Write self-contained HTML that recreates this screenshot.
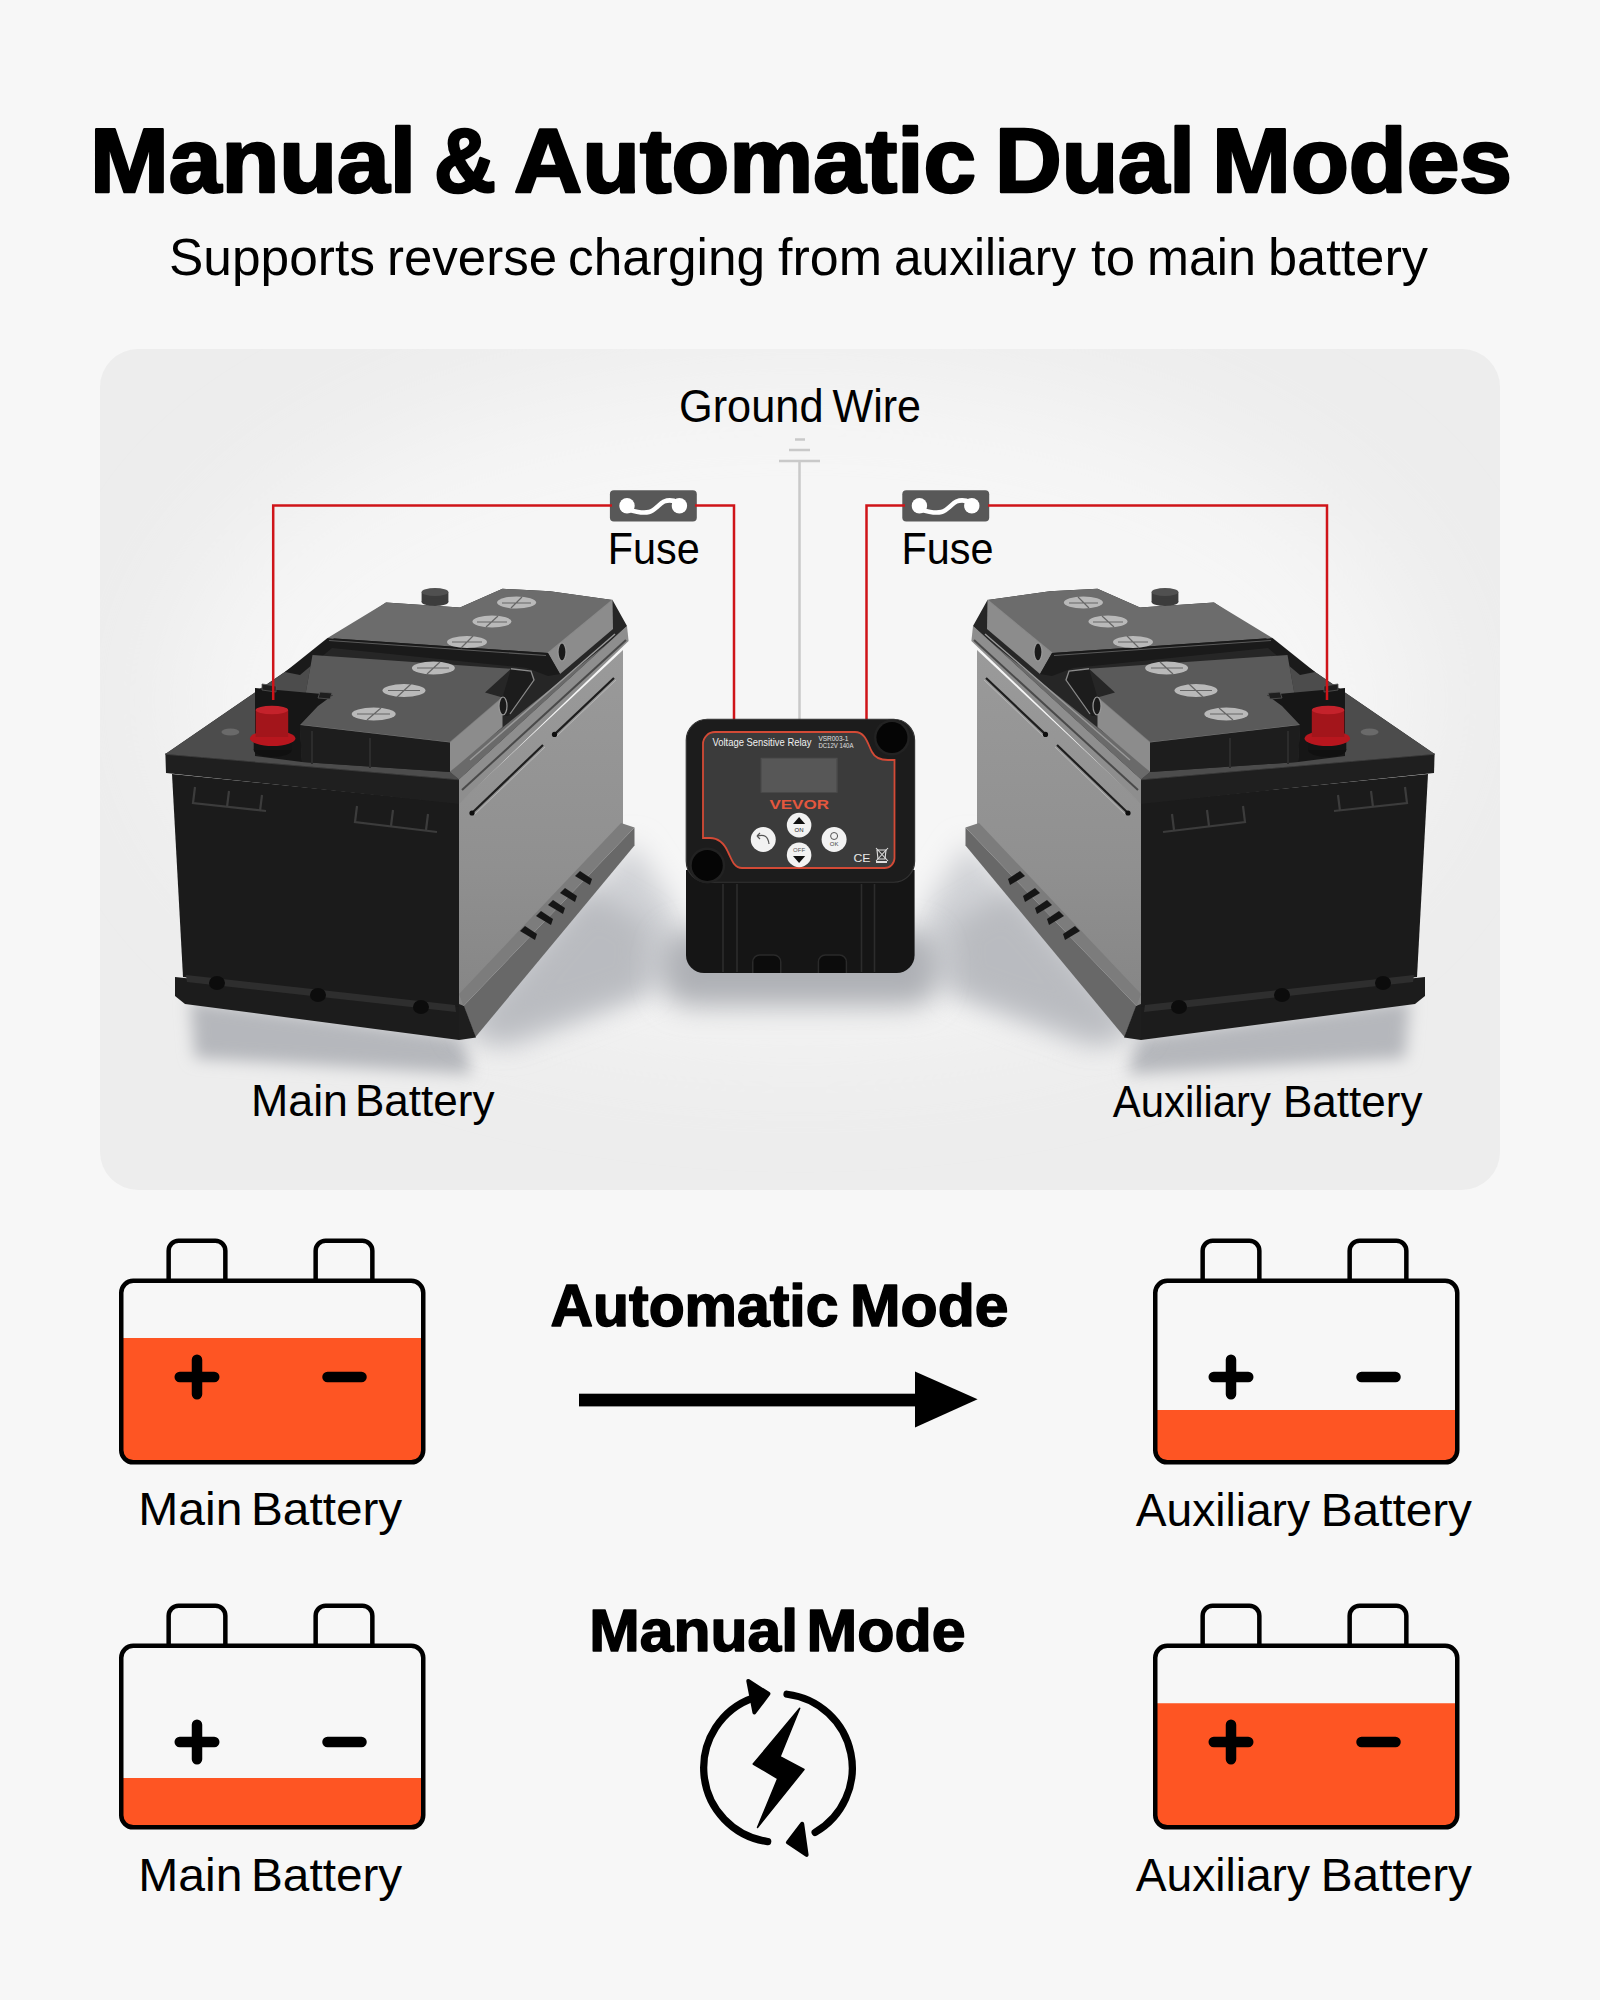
<!DOCTYPE html>
<html>
<head>
<meta charset="utf-8">
<style>
html,body{margin:0;padding:0;}
body{width:1600px;height:2000px;background:#f7f7f7;overflow:hidden;position:relative;font-family:"Liberation Sans",sans-serif;}
svg{position:absolute;left:0;top:0;}
</style>
</head>
<body>
<svg width="1600" height="2000" viewBox="0 0 1600 2000" font-family="Liberation Sans, sans-serif">
<defs>
  <linearGradient id="cardg" x1="0" y1="0" x2="0" y2="1">
    <stop offset="0" stop-color="#ebebeb"/>
    <stop offset="0.35" stop-color="#f1f1f1"/>
    <stop offset="0.7" stop-color="#f0f0f1"/>
    <stop offset="1" stop-color="#ececec"/>
  </linearGradient>
  <filter id="blur60" x="-50%" y="-50%" width="200%" height="200%"><feGaussianBlur stdDeviation="60"/></filter>
  <filter id="blur14" x="-50%" y="-50%" width="200%" height="200%"><feGaussianBlur stdDeviation="14"/></filter>
  <filter id="blur8" x="-50%" y="-50%" width="200%" height="200%"><feGaussianBlur stdDeviation="8"/></filter>
  <linearGradient id="sideg" x1="0" y1="0" x2="0" y2="1">
    <stop offset="0" stop-color="#9a9a9a"/>
    <stop offset="0.6" stop-color="#909090"/>
    <stop offset="1" stop-color="#858585"/>
  </linearGradient>
</defs>

<!-- Title -->
<text x="90" textLength="326" y="191.5" font-size="91" font-weight="bold" fill="#000" stroke="#000" stroke-width="2.6" stroke-linejoin="round" lengthAdjust="spacingAndGlyphs">Manual</text>
<text x="434" textLength="62" y="191.5" font-size="91" font-weight="bold" fill="#000" stroke="#000" stroke-width="2.6" stroke-linejoin="round" lengthAdjust="spacingAndGlyphs">&amp;</text>
<text x="514" textLength="462" y="191.5" font-size="91" font-weight="bold" fill="#000" stroke="#000" stroke-width="2.6" stroke-linejoin="round" lengthAdjust="spacingAndGlyphs">Automatic</text>
<text x="995" textLength="200" y="191.5" font-size="91" font-weight="bold" fill="#000" stroke="#000" stroke-width="2.6" stroke-linejoin="round" lengthAdjust="spacingAndGlyphs">Dual</text>
<text x="1212" textLength="300" y="191.5" font-size="91" font-weight="bold" fill="#000" stroke="#000" stroke-width="2.6" stroke-linejoin="round" lengthAdjust="spacingAndGlyphs">Modes</text>
<text x="169" textLength="206" y="275" font-size="52" fill="#000" lengthAdjust="spacingAndGlyphs">Supports</text>
<text x="387" textLength="170" y="275" font-size="52" fill="#000" lengthAdjust="spacingAndGlyphs">reverse</text>
<text x="568" textLength="197" y="275" font-size="52" fill="#000" lengthAdjust="spacingAndGlyphs">charging</text>
<text x="778" textLength="104" y="275" font-size="52" fill="#000" lengthAdjust="spacingAndGlyphs">from</text>
<text x="894" textLength="182" y="275" font-size="52" fill="#000" lengthAdjust="spacingAndGlyphs">auxiliary</text>
<text x="1091" textLength="44" y="275" font-size="52" fill="#000" lengthAdjust="spacingAndGlyphs">to</text>
<text x="1147" textLength="109" y="275" font-size="52" fill="#000" lengthAdjust="spacingAndGlyphs">main</text>
<text x="1268" textLength="160" y="275" font-size="52" fill="#000" lengthAdjust="spacingAndGlyphs">battery</text>

<!-- Card -->
<clipPath id="cardclip"><rect x="100" y="349" width="1400" height="841" rx="38"/></clipPath>
<rect x="100" y="349" width="1400" height="841" rx="38" fill="#ededed"/>
<g clip-path="url(#cardclip)">
  <ellipse cx="800" cy="700" rx="620" ry="330" fill="#f6f6f6" filter="url(#blur60)"/>
</g>


<!-- labels -->
<text x="679" y="422" font-size="46.5" fill="#000" textLength="144.5" lengthAdjust="spacingAndGlyphs">Ground</text>
<text x="832.5" y="422" font-size="46.5" fill="#000" textLength="88.5" lengthAdjust="spacingAndGlyphs">Wire</text>
<text x="607.7" y="563.5" font-size="44" fill="#000" textLength="92" lengthAdjust="spacingAndGlyphs">Fuse</text>
<text x="901.5" y="563.5" font-size="44" fill="#000" textLength="92" lengthAdjust="spacingAndGlyphs">Fuse</text>
<text x="251" y="1116" font-size="44" fill="#000" textLength="97" lengthAdjust="spacingAndGlyphs">Main</text>
<text x="355" y="1116" font-size="44" fill="#000" textLength="139.5" lengthAdjust="spacingAndGlyphs">Battery</text>
<text x="1112.75" y="1117" font-size="44" fill="#000" textLength="158.25" lengthAdjust="spacingAndGlyphs">Auxiliary</text>
<text x="1283" y="1117" font-size="44" fill="#000" textLength="139.5" lengthAdjust="spacingAndGlyphs">Battery</text>

<!-- ground symbol -->
<g stroke="#c9c9c9" stroke-width="2.5" fill="none">
  <line x1="799.5" y1="461" x2="799.5" y2="722"/>
  <line x1="779" y1="461" x2="820" y2="461"/>
  <line x1="789" y1="450" x2="810" y2="450"/>
  <line x1="795" y1="439.5" x2="805" y2="439.5"/>
</g>



<!-- fuses -->
<g id="fuse">
  <rect x="609.9" y="490.2" width="86.9" height="31.4" rx="4" fill="#585858"/>
  <circle cx="627" cy="505.8" r="7.7" fill="#fff"/>
  <circle cx="679.4" cy="505.8" r="7.7" fill="#fff"/>
  <path d="M628,509.5 C636,512 643,513.5 649,512 C655,510.5 659,504 664,501.5 C669,499.5 674,500.5 678,502.5" stroke="#fff" stroke-width="4.5" fill="none" stroke-linecap="round"/>
</g>
<use href="#fuse" x="292.4"/>

<!-- BATL_START -->
<g id="batL">
  <!-- floor shadow -->
  <path d="M190,1000 L462,1036 L472,1074 L195,1058 Z" fill="#b5b7bc" filter="url(#blur8)"/>
  <path d="M455,1030 L632,842 L672,902 L690,975 L510,1046 Z" fill="#d0d2d6" filter="url(#blur14)"/>
  <path d="M470,1030 L590,890 L650,925 L645,990 L500,1040 Z" fill="#b9bbc0" filter="url(#blur14)"/>
  <!-- side face -->
  <path d="M459,803 L623,650 L623,828 L459,1010 Z" fill="url(#sideg)"/>
  <!-- side grooves -->
  <path d="M472,813 L543,745" stroke="#1e1e1e" stroke-width="2.2"/>
  <path d="M474,815 L545,747" stroke="#b5b5b5" stroke-width="1"/>
  <circle cx="472" cy="813" r="2.6" fill="#0e0e0e"/>
  <path d="M554.5,734.4 L614,678" stroke="#1e1e1e" stroke-width="2.2"/>
  <path d="M556.5,736.4 L616,680" stroke="#b5b5b5" stroke-width="1"/>
  <circle cx="554.5" cy="734.4" r="2.6" fill="#0e0e0e"/>
  <!-- flange side top (lighter) -->
  <path d="M621,823 L634.5,827.5 L463.5,1006 L459,994 Z" fill="#7c7c7c"/>
  <!-- flange side vertical -->
  <path d="M634.5,827.5 L634.5,845.5 L475.5,1037 L463.5,1006 Z" fill="#686868"/>
  <!-- vent slots on flange -->
  <g fill="#151515">
    <path d="M520,931 l5,-5 l12,8 l-2,6 Z"/>
    <path d="M536,916 l5,-5 l12,8 l-2,6 Z"/>
    <path d="M548,905 l5,-5 l12,8 l-2,6 Z"/>
    <path d="M560,893 l5,-5 l12,8 l-2,6 Z"/>
    <path d="M575,876 l5,-5 l12,8 l-2,6 Z"/>
  </g>
  <!-- front body face -->
  <path d="M172,774 L459,803 L459,1008 L183,977 Z" fill="#1b1b1b"/>
  <!-- base flange front -->
  <path d="M175,977 L459,1007 L459,1040 L185,1004 L175,996 Z" fill="#1c1c1c"/>
  <path d="M459,1004 L464,1006 L476,1037.5 L459,1040 Z" fill="#1e1e1e"/>
  <path d="M186,975 L455,1005 L456,1012 L187,982 Z" fill="#2e2e2e"/>
  <g fill="#0c0c0c">
    <ellipse cx="217" cy="983" rx="8" ry="7"/>
    <ellipse cx="318" cy="995" rx="8" ry="7"/>
    <ellipse cx="421" cy="1007" rx="8" ry="7"/>
  </g>
  <!-- handle slots on front face -->
  <g stroke="#3c3c3c" stroke-width="2.2" fill="none">
    <path d="M195,787 L193,803 L266,811"/>
    <path d="M229,791 L227,807"/>
    <path d="M262,795 L260,811"/>
    <path d="M357,806 L355,822 L437,832"/>
    <path d="M393,810 L391,826"/>
    <path d="M428,814 L426,830"/>
  </g>
  <!-- rim front face -->
  <path d="M165.4,753.9 L459,779.5 L459,804 L166,773 Z" fill="#1f1f1f"/>
  <path d="M165.4,753.9 L459,779.5" stroke="#3a3a3a" stroke-width="1.5"/>
  <!-- rim side strip -->
  <path d="M459,779.5 L627,626 L628.6,641 L459,804 Z" fill="#8e8e8e"/>
  <path d="M462,790 L626,640" stroke="#4a4a4a" stroke-width="2"/>
  <!-- top base (gap region dark) -->
  <path d="M165.4,753.9 L386,602.5 L460,607.5 L502.5,588.75 L550,591.25 L612.5,600 L627,626 L459,779.5 Z" fill="#262626"/>
  <!-- rim top left strip -->
  <path d="M165.4,753.9 L285,672 L312.5,655 L300,725 L302,762 L450,772 L459,779.5 Z" fill="#4c4c4c"/>
  <!-- rim top right strip -->
  <path d="M459,779.5 L450,772 L468,755 L612,640 L627,626 Z" fill="#6a6a6a"/>
  <path d="M470,760 L615,634" stroke="#9a9a9a" stroke-width="1.4"/>
  <!-- back cover top -->
  <path d="M386,602.5 L460,607.5 L502.5,588.75 L550,591.25 L612.5,600 L548,653 L327.5,638 Z" fill="#6c6c6c"/>
  <path d="M612.5,600 L548,653" stroke="#8a8a8a" stroke-width="1.2"/>
  <!-- back cover side face -->
  <path d="M612.5,600 L613,629 L560,674 L548,653 Z" fill="#8c8c8c"/>
  <!-- strap band -->
  <path d="M285,672 L327.5,638 L548,653 L560,674 L548,676 L527,668 L332,648 L300,675 Z" fill="#1a1a1a"/>
  <path d="M329,640.5 L546,655.5" stroke="#5a5a5a" stroke-width="1.2"/>
  <!-- handle bail right of front cover -->
  <path d="M511,668.75 L530,670 L533,680 L508,716 L502.5,716 L502.5,697.5 Z" fill="#1c1c1c"/>
  <path d="M511,668.75 L531,671 L534,680 L510,714" stroke="#8a8a8a" stroke-width="1.3" fill="none"/>
  <!-- front cover top -->
  <path d="M300,725 L312.5,655 L511,668.75 L485,692.5 L502.5,697.5 L450,742.5 Z" fill="#5a5a5a"/>
  <path d="M300,725 L450,742.5 L502.5,697.5" stroke="#7a7a7a" stroke-width="1.2" fill="none"/>
  <!-- front cover front face -->
  <path d="M300,725 L450,742.5 L450,772 L302,762 Z" fill="#1d1d1d"/>
  <path d="M312,731 L312,764 M370,738 L370,768" stroke="#2c2c2c" stroke-width="2"/>
  <!-- front cover side face -->
  <path d="M450,742.5 L502.5,697.5 L502.5,727 L450,772 Z" fill="#8c8c8c"/>
  <!-- hinges -->
  <ellipse cx="503" cy="706" rx="4" ry="9" fill="#1a1a1a" stroke="#9a9a9a" stroke-width="1.2"/>
  <ellipse cx="562" cy="652" rx="4" ry="9" fill="#1a1a1a" stroke="#9a9a9a" stroke-width="1.2"/>
  <!-- terminal housing -->
  <path d="M255,688 L333,695 L318,706 L300,725 L302,762 L255,756 Z" fill="#161616"/>
  <path d="M262,684 L276,686 L276,692 L262,690 Z M320,692 L332,693 L330,699 L318,698 Z" fill="#1e1e1e" stroke="#555" stroke-width="0.8"/>
  <!-- vent caps -->
  <g fill="#b9b9b9">
    <ellipse cx="516.6" cy="602.5" rx="19.5" ry="6"/>
    <ellipse cx="492" cy="621.6" rx="19.5" ry="6"/>
    <ellipse cx="467" cy="642" rx="20" ry="6"/>
    <ellipse cx="433.4" cy="668" rx="21.5" ry="6.5"/>
    <ellipse cx="404" cy="690.5" rx="21.5" ry="6.5"/>
    <ellipse cx="373.7" cy="714" rx="22" ry="6.5"/>
  </g>
  <g stroke="#666" stroke-width="1.2">
    <path d="M502,603 H531 M522,597 L511,608"/>
    <path d="M477,622 H507 M498,616 L486,627"/>
    <path d="M452,642 H482 M473,636 L461,648"/>
    <path d="M417,668 H449 M440,662 L427,674"/>
    <path d="M388,690.5 H420 M411,684 L397,697"/>
    <path d="M357,714 H390 M381,708 L367,720"/>
  </g>
  <!-- knob -->
  <rect x="421.6" y="592" width="26.8" height="10" fill="#3c3c3c"/>
  <ellipse cx="435" cy="602" rx="13.4" ry="4" fill="#3c3c3c"/>
  <ellipse cx="435" cy="592" rx="13.4" ry="4" fill="#505050"/>
  <!-- red terminal -->
  <ellipse cx="272.7" cy="750" rx="19" ry="7" fill="#101010"/>
  <rect x="253.7" y="738" width="38" height="12" fill="#141414"/>
  <ellipse cx="272.7" cy="738.4" rx="22.75" ry="7.7" fill="#b8161e"/>
  <rect x="255.7" y="710" width="32.5" height="27" fill="#a3151b"/>
  <ellipse cx="271.9" cy="710" rx="16.25" ry="4.2" fill="#c4222b"/>
  <ellipse cx="230.4" cy="732" rx="9" ry="3.5" fill="#6a6a6a"/>
</g>

<!-- BATL_END -->
<use href="#batL" transform="translate(1600,0) scale(-1,1)"/>
<!-- red wires -->
<g stroke="#cf1419" stroke-width="2.5" fill="none">
  <polyline points="273.2,700 273.2,505.5 612,505.5"/>
  <polyline points="695,505.5 734,505.5 734,722"/>
  <polyline points="866.5,722 866.5,505.5 905,505.5"/>
  <polyline points="988,505.5 1327,505.5 1327,700"/>
</g>
<!-- DEV_START -->
<g id="device">
  <!-- floor shadow -->
  <rect x="662" y="930" width="276" height="76" rx="28" fill="#aeb0b5" filter="url(#blur14)"/>
  <!-- body -->
  <path d="M686,870 H914.6 V955 a18,18 0 0 1 -18,18 H704 a18,18 0 0 1 -18,-18 Z" fill="#151515"/>
  <g stroke="#2c2c2c" stroke-width="1.6">
    <line x1="723" y1="884" x2="723" y2="972"/>
    <line x1="737" y1="884" x2="737" y2="972"/>
    <line x1="861.5" y1="884" x2="861.5" y2="972"/>
    <line x1="874.5" y1="884" x2="874.5" y2="972"/>
  </g>
  <path d="M752.75,973 V962 a7,7 0 0 1 7,-7 H773.75 a7,7 0 0 1 7,7 V973" fill="#0c0c0c" stroke="#2a2a2a" stroke-width="1.5"/>
  <path d="M818.4,973 V962 a7,7 0 0 1 7,-7 H839.4 a7,7 0 0 1 7,7 V973" fill="#0c0c0c" stroke="#2a2a2a" stroke-width="1.5"/>
  <!-- lid -->
  <rect x="686.25" y="719.25" width="228.35" height="163" rx="21" fill="#1c1c1c" stroke="#333" stroke-width="1.2"/>
  <!-- panel -->
  <path d="M703,744 a12,12 0 0 1 12,-12 H855 C866,732 868,745 872,752 C875,758 880,760 888,760 H894.5 V858 a10,10 0 0 1 -10,10 H742 C734,868 732,860 728,852 C724,843 718,838 710,838 H703 Z" fill="#3b3b3b" stroke="#d34a36" stroke-width="1.8"/>
  <!-- holes -->
  <circle cx="891.9" cy="737.6" r="18" fill="#222"/>
  <circle cx="891.9" cy="737.6" r="15.5" fill="#050505"/>
  <circle cx="707.25" cy="865.4" r="18" fill="#222"/>
  <circle cx="707.25" cy="865.4" r="15.5" fill="#050505"/>
  <!-- screen -->
  <rect x="760.6" y="757.75" width="77" height="35" fill="#4e4e4e"/>
  <rect x="762" y="759" width="74" height="33" fill="#575757"/>
  <!-- text -->
  <text x="712.5" y="746.4" font-size="10.5" fill="#f0f0f0" textLength="99" lengthAdjust="spacingAndGlyphs">Voltage Sensitive Relay</text>
  <text x="818.4" y="741" font-size="6.5" fill="#e0e0e0" textLength="30" lengthAdjust="spacingAndGlyphs">VSR003-1</text>
  <text x="818.4" y="748" font-size="6.5" fill="#e0e0e0" textLength="35" lengthAdjust="spacingAndGlyphs">DC12V 140A</text>
  <text x="769.4" y="809.4" font-size="13.5" font-weight="bold" fill="#e4573e" textLength="59.6" lengthAdjust="spacingAndGlyphs">VEVOR</text>
  <!-- buttons -->
  <g fill="#f2f2f2">
    <circle cx="799.1" cy="825.1" r="12.3"/>
    <circle cx="763.25" cy="839.5" r="12.5"/>
    <circle cx="834.1" cy="839.5" r="12.5"/>
    <circle cx="799.1" cy="854.9" r="12.3"/>
  </g>
  <path d="M793,824 L799.1,817 L805.2,824 Z" fill="#111"/>
  <text x="799.1" y="832" font-size="6" fill="#222" text-anchor="middle">ON</text>
  <path d="M793,856 L799.1,863 L805.2,856 Z" fill="#111"/>
  <text x="799.1" y="852" font-size="6" fill="#555" text-anchor="middle">OFF</text>
  <path d="M769,844 C768,836 764,834 757,836 M757,836 l3,-3 M757,836 l3,3" stroke="#555" stroke-width="1.2" fill="none"/>
  <circle cx="834.1" cy="836" r="3.5" fill="none" stroke="#555" stroke-width="1"/>
  <text x="834.1" y="846" font-size="6" fill="#444" text-anchor="middle">OK</text>
  <!-- CE + bin -->
  <text x="853.4" y="862" font-size="11" fill="#e8e8e8" textLength="17" lengthAdjust="spacingAndGlyphs">CE</text>
  <g stroke="#e0e0e0" stroke-width="1.1" fill="none">
    <path d="M877,850 h9 l-1,9 h-7 Z"/>
    <path d="M876,848 L888,861 M888,848 L876,861"/>
  </g>
  <rect x="876" y="861" width="11" height="2" fill="#e0e0e0"/>
</g>

<!-- DEV_END -->



<rect x="121.25" y="1280.85" width="302" height="181.5" rx="12" fill="#f7f7f7"/>
<path d="M121.25,1338.00 H423.25 V1450.35 a12,12 0 0 1 -12,12 H133.25 a12,12 0 0 1 -12,-12 Z" fill="#fe5523"/>
<rect x="121.25" y="1280.85" width="302" height="181.5" rx="12" fill="none" stroke="#000" stroke-width="4.5"/>
<path d="M168.65,1280.85 V1250.65 a10,10 0 0 1 10,-10 H215.35 a10,10 0 0 1 10,10 V1280.85" fill="none" stroke="#000" stroke-width="4.5"/>
<path d="M315.65,1280.85 V1250.65 a10,10 0 0 1 10,-10 H362.35 a10,10 0 0 1 10,10 V1280.85" fill="none" stroke="#000" stroke-width="4.5"/>
<path d="M179.75,1377.0 H214.25 M197.0,1359.75 V1394.25" stroke="#000" stroke-width="10.5" stroke-linecap="round" fill="none"/>
<path d="M327.5,1377 H361.5" stroke="#000" stroke-width="10.5" stroke-linecap="round" fill="none"/>
<rect x="1155.25" y="1280.85" width="302" height="181.5" rx="12" fill="#f7f7f7"/>
<path d="M1155.25,1410.00 H1457.25 V1450.35 a12,12 0 0 1 -12,12 H1167.25 a12,12 0 0 1 -12,-12 Z" fill="#fe5523"/>
<rect x="1155.25" y="1280.85" width="302" height="181.5" rx="12" fill="none" stroke="#000" stroke-width="4.5"/>
<path d="M1202.65,1280.85 V1250.65 a10,10 0 0 1 10,-10 H1249.35 a10,10 0 0 1 10,10 V1280.85" fill="none" stroke="#000" stroke-width="4.5"/>
<path d="M1349.65,1280.85 V1250.65 a10,10 0 0 1 10,-10 H1396.35 a10,10 0 0 1 10,10 V1280.85" fill="none" stroke="#000" stroke-width="4.5"/>
<path d="M1213.75,1377.0 H1248.25 M1231.0,1359.75 V1394.25" stroke="#000" stroke-width="10.5" stroke-linecap="round" fill="none"/>
<path d="M1361.5,1377 H1395.5" stroke="#000" stroke-width="10.5" stroke-linecap="round" fill="none"/>
<rect x="121.25" y="1645.85" width="302" height="181.5" rx="12" fill="#f7f7f7"/>
<path d="M121.25,1778.00 H423.25 V1815.35 a12,12 0 0 1 -12,12 H133.25 a12,12 0 0 1 -12,-12 Z" fill="#fe5523"/>
<rect x="121.25" y="1645.85" width="302" height="181.5" rx="12" fill="none" stroke="#000" stroke-width="4.5"/>
<path d="M168.65,1645.85 V1615.65 a10,10 0 0 1 10,-10 H215.35 a10,10 0 0 1 10,10 V1645.85" fill="none" stroke="#000" stroke-width="4.5"/>
<path d="M315.65,1645.85 V1615.65 a10,10 0 0 1 10,-10 H362.35 a10,10 0 0 1 10,10 V1645.85" fill="none" stroke="#000" stroke-width="4.5"/>
<path d="M179.75,1742.0 H214.25 M197.0,1724.75 V1759.25" stroke="#000" stroke-width="10.5" stroke-linecap="round" fill="none"/>
<path d="M327.5,1742 H361.5" stroke="#000" stroke-width="10.5" stroke-linecap="round" fill="none"/>
<rect x="1155.25" y="1645.85" width="302" height="181.5" rx="12" fill="#f7f7f7"/>
<path d="M1155.25,1703.20 H1457.25 V1815.35 a12,12 0 0 1 -12,12 H1167.25 a12,12 0 0 1 -12,-12 Z" fill="#fe5523"/>
<rect x="1155.25" y="1645.85" width="302" height="181.5" rx="12" fill="none" stroke="#000" stroke-width="4.5"/>
<path d="M1202.65,1645.85 V1615.65 a10,10 0 0 1 10,-10 H1249.35 a10,10 0 0 1 10,10 V1645.85" fill="none" stroke="#000" stroke-width="4.5"/>
<path d="M1349.65,1645.85 V1615.65 a10,10 0 0 1 10,-10 H1396.35 a10,10 0 0 1 10,10 V1645.85" fill="none" stroke="#000" stroke-width="4.5"/>
<path d="M1213.75,1742.0 H1248.25 M1231.0,1724.75 V1759.25" stroke="#000" stroke-width="10.5" stroke-linecap="round" fill="none"/>
<path d="M1361.5,1742 H1395.5" stroke="#000" stroke-width="10.5" stroke-linecap="round" fill="none"/>
<text x="138.25" y="1525" font-size="45.5" fill="#000" textLength="104.25" lengthAdjust="spacingAndGlyphs">Main</text>
<text x="251" y="1525" font-size="45.5" fill="#000" textLength="151.25" lengthAdjust="spacingAndGlyphs">Battery</text>
<text x="1135.75" y="1526" font-size="45.5" fill="#000" textLength="174.25" lengthAdjust="spacingAndGlyphs">Auxiliary</text>
<text x="1320.75" y="1526" font-size="45.5" fill="#000" textLength="151.25" lengthAdjust="spacingAndGlyphs">Battery</text>
<text x="138.25" y="1891" font-size="45.5" fill="#000" textLength="104.25" lengthAdjust="spacingAndGlyphs">Main</text>
<text x="251" y="1891" font-size="45.5" fill="#000" textLength="151.25" lengthAdjust="spacingAndGlyphs">Battery</text>
<text x="1135.75" y="1891" font-size="45.5" fill="#000" textLength="174.25" lengthAdjust="spacingAndGlyphs">Auxiliary</text>
<text x="1320.75" y="1891" font-size="45.5" fill="#000" textLength="151.25" lengthAdjust="spacingAndGlyphs">Battery</text>
<text x="550.5" y="1326" font-size="58.5" fill="#000" font-weight="bold" stroke="#000" stroke-width="1.5" stroke-linejoin="round" textLength="288" lengthAdjust="spacingAndGlyphs">Automatic</text>
<text x="850" y="1326" font-size="58.5" fill="#000" font-weight="bold" stroke="#000" stroke-width="1.5" stroke-linejoin="round" textLength="158.5" lengthAdjust="spacingAndGlyphs">Mode</text>
<text x="589.25" y="1651" font-size="58.5" fill="#000" font-weight="bold" stroke="#000" stroke-width="1.5" stroke-linejoin="round" textLength="208.75" lengthAdjust="spacingAndGlyphs">Manual</text>
<text x="806.5" y="1651" font-size="58.5" fill="#000" font-weight="bold" stroke="#000" stroke-width="1.5" stroke-linejoin="round" textLength="159" lengthAdjust="spacingAndGlyphs">Mode</text>
<rect x="579" y="1393.7" width="340" height="12.7" fill="#000"/>
<path d="M915,1371.6 L977.6,1399.2 L915,1427.5 Z" fill="#000"/>




<g id="cycle">
  <path d="M767.66,1841.58 A74.3,74.3 0 0 1 753.81,1697.75" stroke="#000" stroke-width="7.3" fill="none" stroke-linecap="round"/>
  <path d="M787.05,1694.25 A74.3,74.3 0 0 1 815.15,1832.35" stroke="#000" stroke-width="7.3" fill="none" stroke-linecap="round"/>
  <path d="M748.3,1681 L768.4,1693.8 L754.4,1712.4 Z" fill="#000" stroke="#000" stroke-width="4" stroke-linejoin="round"/>
  <path d="M802.2,1823.8 L787.9,1842.4 L806.6,1854.8 Z" fill="#000" stroke="#000" stroke-width="4" stroke-linejoin="round"/>
  <path d="M799.7,1708.25 L780,1756.6 L804,1769.5 L757.5,1827.5 L777.75,1778.6 L753.2,1764 Z" fill="#000" stroke="#000" stroke-width="1.5" stroke-linejoin="round"/>
</g>
</svg>
</body>
</html>
